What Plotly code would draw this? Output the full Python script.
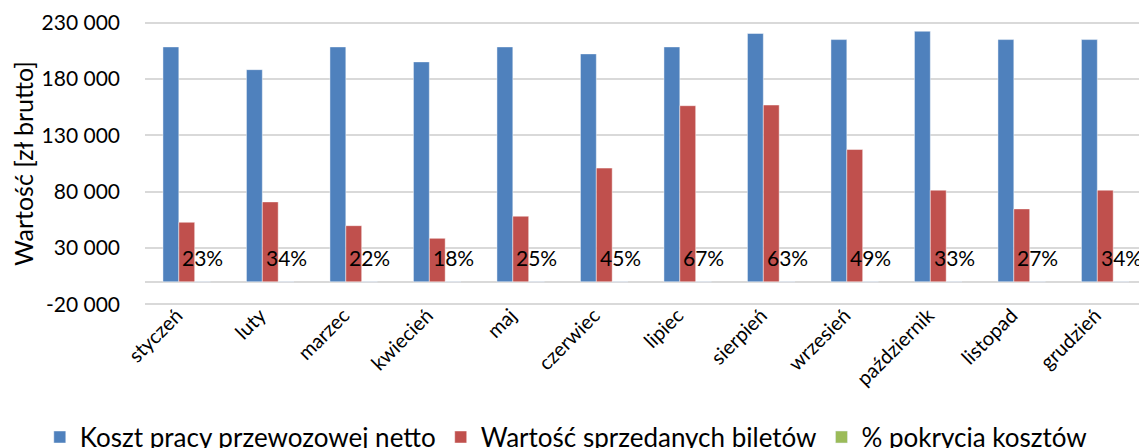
import plotly.graph_objects as go

months = ["styczeń", "luty", "marzec", "kwiecień", "maj", "czerwiec", "lipiec",
          "sierpień", "wrzesień", "październik", "listopad", "grudzień"]
koszt = [208500, 188300, 208500, 195200, 208500, 202300, 208500, 220400, 215000, 222400, 215000, 215000]
bilety = [52800, 70900, 49800, 38600, 58200, 100900, 156300, 156900, 117400, 81300, 64700, 81300]
pokrycie = [0.23, 0.34, 0.22, 0.18, 0.25, 0.45, 0.67, 0.63, 0.49, 0.33, 0.27, 0.34]

y_ticks = [-20000, 30000, 80000, 130000, 180000, 230000]
y_ticktext = ["-20 000", "30 000", "80 000", "130 000", "180 000", "230 000"]

FONT = "Lato"
edge = dict(color="rgba(255,255,255,0.45)", width=1)

# page body has an 8px margin; size the figure so it fits the 1147x448 window
W, H = 1139, 440
ML, MR, MT, MB = 137, 0, 13, 142
BARGAP = 0.43
plot_w = W - ML - MR
slot_px = plot_w / len(months) * (1 - BARGAP) / 3

fig = go.Figure()
fig.add_trace(go.Bar(name="Koszt pracy przewozowej netto", x=months, y=koszt,
                     marker=dict(color="#4F81BD", line=edge)))
fig.add_trace(go.Bar(name="Wartość sprzedanych biletów", x=months, y=bilety,
                     marker=dict(color="#C0504D", line=edge)))
fig.add_trace(go.Bar(name="% pokrycia kosztów", x=months, y=pokrycie,
                     marker=dict(color="#9BBB59")))

for m, p in zip(months, pokrycie):
    fig.add_annotation(x=m, y=p, xref="x", yref="y", text=f"{round(p*100)}%",
                       showarrow=False, xshift=slot_px, yshift=24, yanchor="middle",
                       font=dict(family=FONT, size=21, color="#000000"))

fig.update_layout(
    width=W, height=H,
    margin=dict(l=ML, r=MR, t=MT, b=MB, autoexpand=False),
    paper_bgcolor="white", plot_bgcolor="white",
    barmode="group", bargap=BARGAP, bargroupgap=0,
    font=dict(family=FONT, color="#000000"),
    showlegend=True,
    legend=dict(orientation="h", x=-0.105, xanchor="left", y=-0.46, yanchor="middle",
                font=dict(family=FONT, size=26, color="#000000"),
                itemwidth=30, traceorder="normal"),
    xaxis=dict(tickangle=-45, tickfont=dict(family=FONT, size=20), showgrid=False,
               showline=False, ticks="", automargin=False,
               ticklabelshift=-10, ticklabelstandoff=-7),
    yaxis=dict(range=[-21500, 231500], tickvals=y_ticks, ticktext=y_ticktext,
               tickfont=dict(family=FONT, size=21), showgrid=True, gridcolor="#D9D9D9",
               gridwidth=1.6, zeroline=True, zerolinecolor="#D9D9D9", zerolinewidth=1.6,
               showline=False, ticks="", ticklabelstandoff=24, automargin=False,
               title=dict(text="Wartość [zł brutto]", font=dict(family=FONT, size=25),
                          standoff=6)),
)

fig.write_html("out.html")
